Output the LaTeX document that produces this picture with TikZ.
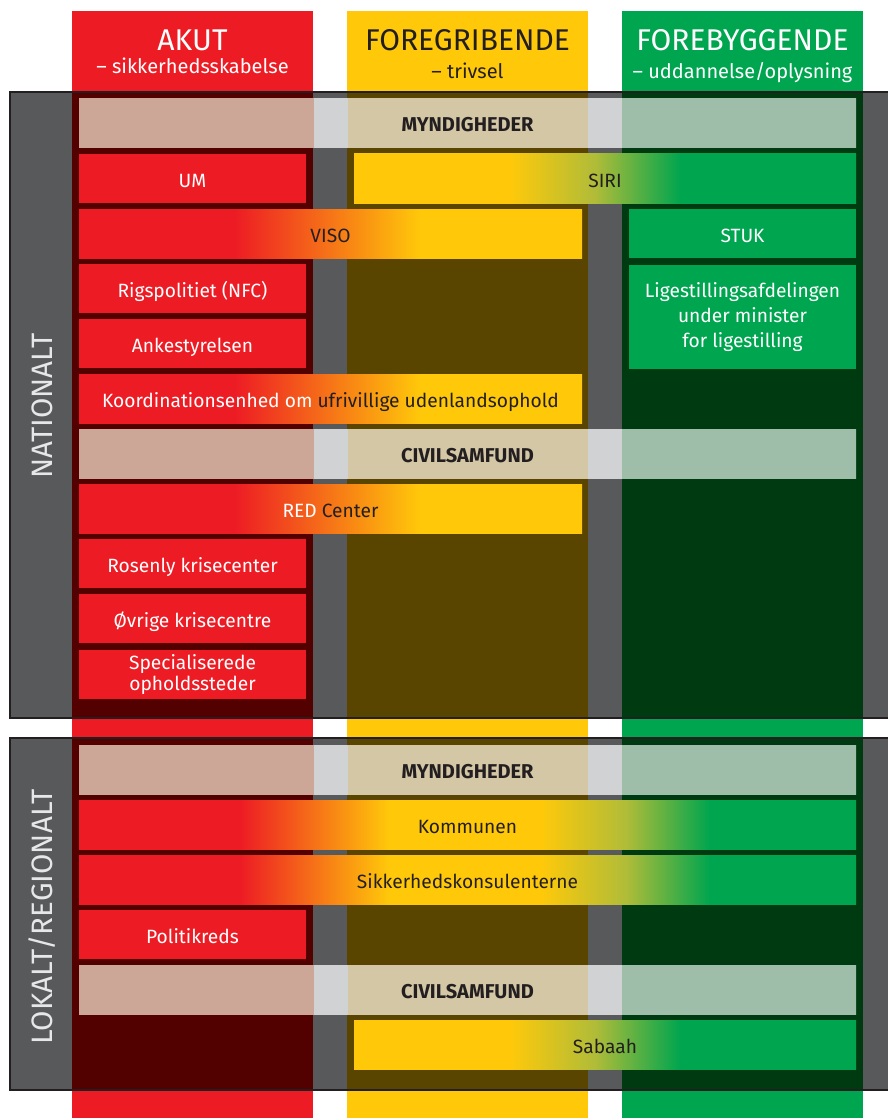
\documentclass[tikz,border=0pt]{standalone}
\usepackage{fontspec}
\setmainfont{Fira Sans}
\usepackage{tikz}
\usetikzlibrary{positioning}

\definecolor{akut}{HTML}{ED1C24}
\definecolor{akutdark}{HTML}{520000}
\definecolor{foregrib}{HTML}{FFC90A}
\definecolor{foregribdark}{HTML}{594500}
\definecolor{forebyg}{HTML}{00A54F}
\definecolor{forebygdark}{HTML}{003A10}
\definecolor{olive}{HTML}{B0BC38}
\definecolor{panelgray}{HTML}{58595B}
\definecolor{ink}{HTML}{231F20}
\definecolor{sidetext}{HTML}{E6E7E8}
\definecolor{bandred}{HTML}{CCA696}
\definecolor{bandgray}{HTML}{D1D2D4}
\definecolor{bandyel}{HTML}{D4C7A6}
\definecolor{bandgrn}{HTML}{9FBEAA}

\pgfdeclarehorizontalshading{redyellow}{100bp}{color(0bp)=(akut); color(40.5bp)=(akut);
  color(59bp)=(foregrib); color(100bp)=(foregrib)}
\pgfdeclarehorizontalshading{yellowgreen}{100bp}{color(0bp)=(foregrib); color(40.5bp)=(foregrib);
  color(49bp)=(olive); color(57.5bp)=(forebyg); color(100bp)=(forebyg)}
\pgfdeclarehorizontalshading{redyellowgreen}{100bp}{color(0bp)=(akut); color(35.4bp)=(akut);
  color(45bp)=(foregrib); color(54.7bp)=(foregrib); color(60.2bp)=(olive);
  color(65.6bp)=(forebyg); color(100bp)=(forebyg)}
\pgfdeclarehorizontalshading{lightband}{100bp}{color(0bp)=(bandred); color(40.06bp)=(bandred);
  color(40.07bp)=(bandgray); color(42.25bp)=(bandgray); color(42.26bp)=(bandyel);
  color(57.74bp)=(bandyel); color(57.75bp)=(bandgray); color(59.93bp)=(bandgray);
  color(59.94bp)=(bandgrn); color(100bp)=(bandgrn)}

\newcommand\boxfont{\fontsize{19.2}{25}\selectfont}
\newcommand\bandfont{\fontsize{20}{22}\selectfont\bfseries}
\newcommand\headfont{\fontsize{30}{34}\selectfont}
\newcommand\subfont{\fontsize{20}{22}\selectfont}
\newcommand\sidefont{\fontsize{29.5}{32}\selectfont}

\begin{document}
\begin{tikzpicture}[x=1pt, y=-1pt,
    box/.style={minimum height=49pt, inner sep=0pt, align=center, font=\boxfont},
    single/.style={text height=17pt, text depth=0pt},
    redbox/.style={box, single, fill=akut, text=white, minimum width=227pt},
    greenbox/.style={box, single, fill=forebyg, text=white, minimum width=227pt},
    halfbar/.style={box, single, text=ink, minimum width=503pt},
    fullbar/.style={box, single, text=ink, minimum width=777pt, shading=redyellowgreen},
    band/.style={box, single, text=ink, minimum width=777pt, shading=lightband, font=\bandfont},
    head/.style={font=\headfont, inner sep=0pt, anchor=base},
    sub/.style={font=\subfont, inner sep=0pt, anchor=base},
    side/.style={font=\sidefont, text=sidetext, inner sep=0pt, rotate=90}]
  \useasboundingbox[fill=white] (0,0) rectangle (887,1118);

  % columns
  \fill[akut] (72,11) rectangle (313,1118);
  \fill[foregrib] (347,11) rectangle (588,1118);
  \fill[forebyg] (622,11) rectangle (863,1118);

  % panels
  \fill[panelgray] (10,92) rectangle (900,718);
  \fill[akutdark] (72,92) rectangle (313,718);
  \fill[foregribdark] (347,92) rectangle (588,718);
  \fill[forebygdark] (622,92) rectangle (863,718);
  \draw[ink, line width=2pt] (10,92) rectangle (900,718);

  \fill[panelgray] (10,738) rectangle (900,1090);
  \fill[akutdark] (72,738) rectangle (313,1090);
  \fill[foregribdark] (347,738) rectangle (588,1090);
  \fill[forebygdark] (622,738) rectangle (863,1090);
  \draw[ink, line width=2pt] (10,738) rectangle (900,1090);

  % headers
  \node[head, text=white] (akut) at (192.5,51) {AKUT};
  \node[sub, text=white] (akutsub) at (192.5,74) {– sikkerhedsskabelse};
  \node[head, text=ink] (foregrib) at (467.5,51) {FOREGRIBENDE};
  \node[sub, text=ink] (foregribsub) at (467.5,78.5) {– trivsel};
  \node[head, text=white] (forebyg) at (742.5,51) {FOREBYGGENDE};
  \node[sub, text=white] (forebygsub) at (742.5,78.5) {– uddannelse/oplysning};

  \node[side] (nat) at (42,406) {NATIONALT};
  \node[side] (lok) at (42,917) {LOKALT/REGIONALT};

  % nationalt
  \node[band] (myn1) at (467.5,123.5) {MYNDIGHEDER};
  \node[redbox] (um) at (192.5,178.5) {UM};
  \node[halfbar, minimum width=502pt, shading=yellowgreen] (siri) at (605,178.5) {SIRI};
  \node[halfbar, shading=redyellow] (viso) at (330.5,233.5) {VISO};
  \node[greenbox] (stuk) at (742.5,233.5) {STUK};
  \node[redbox] (rigs) at (192.5,288.5) {Rigspolitiet (NFC)};
  \node[redbox, below=6pt of rigs] (anke) {Ankestyrelsen};
  \node[box, fill=forebyg, text=white, minimum width=227pt, minimum height=104pt]
    (ligest) at (742.5,317) {Ligestillingsafdelingen\\under minister\\for ligestilling};
  \node[halfbar, shading=redyellow] (koord) at (330.5,398.5)
    {{\color{white}Koordinationsenhed om} ufrivillige udenlandsophold};
  \node[band] (civ1) at (467.5,453.5) {CIVILSAMFUND};
  \node[halfbar, shading=redyellow] (redc) at (330.5,508.5) {{\color{white}RED} Center};
  \node[redbox] (rosenly) at (192.5,563.5) {Rosenly krisecenter};
  \node[redbox, below=6pt of rosenly] (ovrige) {Øvrige krisecentre};
  \node[box, fill=akut, text=white, minimum width=227pt, font=\fontsize{19.2}{21}\selectfont,
    below=6pt of ovrige] (spec) {Specialiserede\\opholdssteder};

  % lokalt/regionalt
  \node[band] (myn2) at (467.5,769.5) {MYNDIGHEDER};
  \node[fullbar] (kommune) at (467.5,824.5) {Kommunen};
  \node[fullbar, below=6pt of kommune] (sikker) {Sikkerhedskonsulenterne};
  \node[redbox] (polkreds) at (192.5,934.5) {Politikreds};
  \node[band] (civ2) at (467.5,989.5) {CIVILSAMFUND};
  \node[halfbar, minimum width=502pt, shading=yellowgreen] (sabaah) at (605,1044.5) {Sabaah};
\end{tikzpicture}
\end{document}
